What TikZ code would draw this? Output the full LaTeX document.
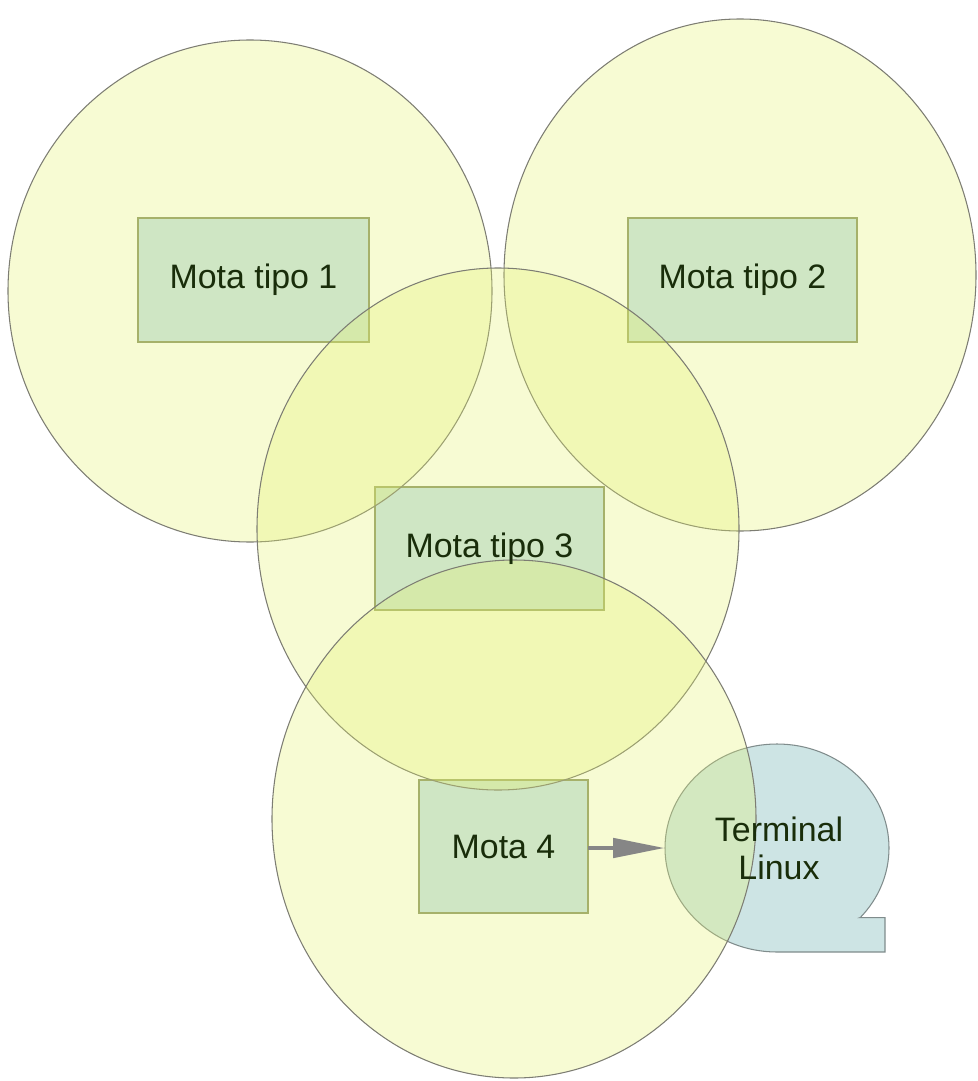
\documentclass[tikz,border=0pt]{standalone}
\usepackage{fontspec}
\setmainfont{Liberation Sans}
\usetikzlibrary{arrows.meta}

\definecolor{zonafill}{RGB}{228,242,110}
\definecolor{zonaline}{RGB}{125,125,115}
\definecolor{motafill}{RGB}{198,225,234}
\definecolor{motaline}{RGB}{140,150,105}
\definecolor{termfill}{RGB}{205,228,228}
\definecolor{termline}{RGB}{128,140,140}
\definecolor{textoverde}{RGB}{25,45,10}

\tikzset{
  zona/.style={draw=zonaline, line width=0.6pt, fill=zonafill, fill opacity=0.3},
  mota/.style={draw=motaline, line width=0.6pt, fill=motafill},
  terminal/.style={draw=termline, line width=0.6pt, fill=termfill},
  etiqueta/.style={text=textoverde, font=\fontsize{19.3}{21.5}\selectfont, align=center},
  flecha/.style={-{Triangle[length=1.04cm,width=0.38cm]}, line width=2.8pt, draw=gray!95}
}

\begin{document}
\begin{tikzpicture}[x=0.02cm, y=-0.02cm]
        \useasboundingbox (0,0) rectangle (977,1081);

        % Motas (under the coverage zones)
        \draw[mota] (138,218) rectangle (369,342);   % mota 1
        \draw[mota] (628,218) rectangle (857,342);   % mota 2
        \draw[mota] (375,487) rectangle (604,610);   % mota 3
        \draw[mota] (419,780) rectangle (588,913);   % mota 4

        % Terminal callout
        \draw[terminal] (860.2,917.6) -- (885,917.6) -- (885,952) -- (777,952)
            arc[start angle=90, end angle=402, x radius=112, y radius=104] -- cycle;

        % Coverage zones
        \draw[zona] (250,291) ellipse [x radius=242, y radius=251];  % zone 1
        \draw[zona] (740,275) ellipse [x radius=236, y radius=256];  % zone 2
        \draw[zona] (498,529) ellipse [x radius=241, y radius=261];  % zone 3
        \draw[zona] (514,819) ellipse [x radius=242, y radius=259];  % zone 4

        % Labels
        \node[etiqueta] (m1) at (253.5,280) {Mota tipo 1};
        \node[etiqueta] (m2) at (742.5,280) {Mota tipo 2};
        \node[etiqueta] (m3) at (489.5,548.5) {Mota tipo 3};
        \node[etiqueta] (m4) at (503.5,846.5) {Mota 4};
        \node[etiqueta] (term) at (779,848) {Terminal\\Linux};

        % Link mota 4 -> terminal
        \coordinate (m4east) at (588,848);
        \coordinate (termwest) at (665,848);
        \draw[flecha] (m4east) -- (termwest);

\end{tikzpicture}
\end{document}
